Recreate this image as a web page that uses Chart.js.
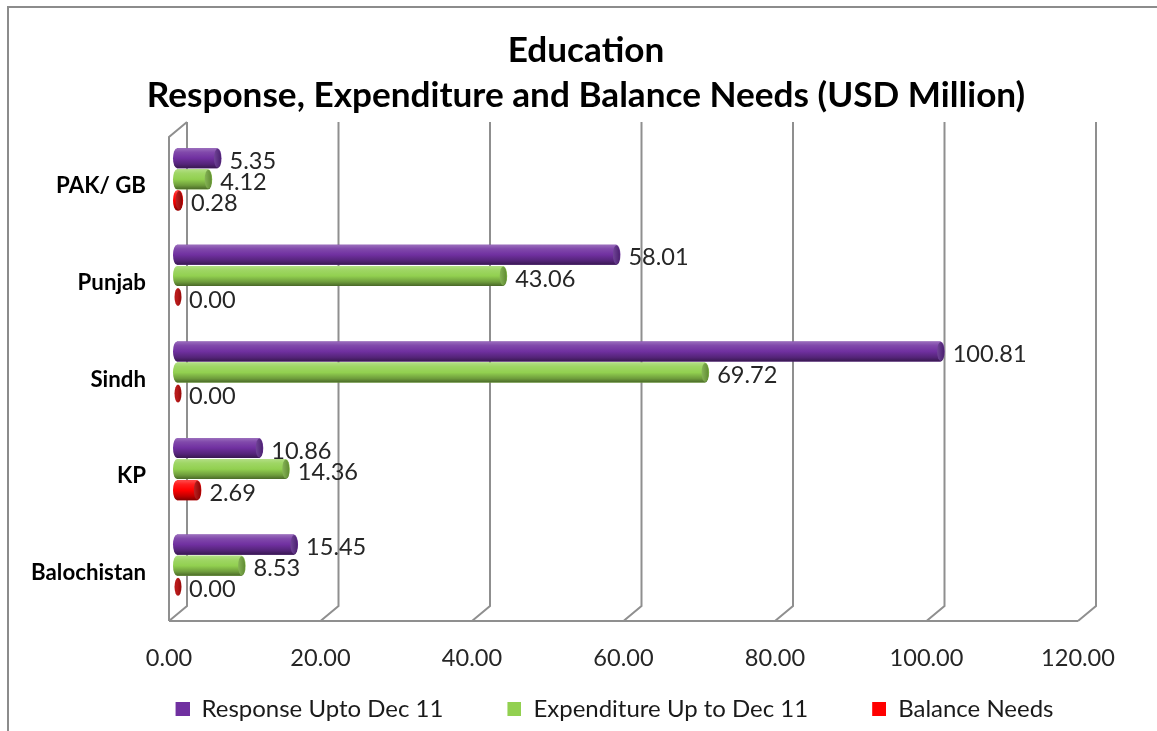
<!DOCTYPE html>
<html><head><meta charset="utf-8">
<script src="https://cdn.jsdelivr.net/npm/chart.js@4.4.1/dist/chart.umd.min.js"></script>
<style>
html,body{margin:0;padding:0;background:#fff;overflow:hidden;width:1157px;height:731px;}
#frame{position:absolute;left:7px;top:6px;width:1300px;height:900px;border-top:2px solid #8c8c8c;border-left:2px solid #8c8c8c;}
#c{position:absolute;left:0;top:0;}
</style></head><body>
<div id="frame"></div>
<canvas id="c" width="1157" height="731"></canvas>
<script>
const categories = ['PAK/ GB', 'Punjab', 'Sindh', 'KP', 'Balochistan'];
const responseUptoDec11 = [5.35, 58.01, 100.81, 10.86, 15.45];
const expenditureUptoDec11 = [4.12, 43.06, 69.72, 14.36, 8.53];
const balanceNeeds = [0.28, 0.00, 0.00, 2.69, 0.00];
const seriesNames = ['Response Upto Dec 11', 'Expenditure Up to Dec 11', 'Balance Needs'];
const xTicks = [0, 20, 40, 60, 80, 100, 120];
const titleLines = ['Education', 'Response, Expenditure and Balance Needs (USD Million)'];

const FAMILY = 'Lato';
const baseColors = ['#7030A0', '#92D050', '#FF0000'];
const capColors = ['#5a2688', '#74aa3c', '#b00000'];

const mctx = document.createElement('canvas').getContext('2d');
function fitSize(text, weight, target) {
  mctx.font = weight + ' 100px ' + FAMILY;
  return 100 * target / mctx.measureText(text).width;
}
function shade(hex, f) {
  const n = parseInt(hex.slice(1), 16);
  let r = (n >> 16) & 255, g = (n >> 8) & 255, b = n & 255;
  const t = f < 0 ? 0 : 255, p = Math.abs(f);
  r = Math.round((t - r) * p + r); g = Math.round((t - g) * p + g); b = Math.round((t - b) * p + b);
  return 'rgb(' + r + ',' + g + ',' + b + ')';
}

const LEG_GAP = 57, LEG_BOX = 14;
function legendSwatch(color) {
  const c = document.createElement('canvas');
  c.width = LEG_GAP + LEG_BOX; c.height = LEG_BOX;
  const x = c.getContext('2d');
  x.fillStyle = color;
  x.fillRect(LEG_GAP, 0, LEG_BOX, LEG_BOX);
  return c;
}

function build() {
  const titleSize = fitSize(titleLines[1], 'bold', 879);
  const yLabelSize = fitSize('Balochistan', 'bold', 115);
  const tickSize = fitSize('120.00', 'normal', 74);
  const dataSize = fitSize('100.81', 'normal', 74);
  const legendSize = fitSize(seriesNames[0], 'normal', 242);
  const swatches = baseColors.map(legendSwatch);

  const framePlugin = {
    id: 'frame3d',
    beforeDatasetsDraw(chart) {
      const ctx = chart.ctx, xs = chart.scales.x, a = chart.chartArea;
      const backTop = a.top - 9, backBottom = a.bottom - 8, frontY = a.bottom + 7;
      const bx = v => xs.getPixelForValue(v) + 10;
      const fx = v => xs.getPixelForValue(v) - 8;
      ctx.save();
      ctx.strokeStyle = '#8f8f8f';
      ctx.lineWidth = 2;
      xs.ticks.forEach(t => {
        ctx.beginPath();
        ctx.moveTo(bx(t.value), backTop);
        ctx.lineTo(bx(t.value), backBottom);
        ctx.lineTo(fx(t.value), frontY);
        ctx.stroke();
      });
      ctx.beginPath();
      ctx.moveTo(fx(xs.min), frontY);
      ctx.lineTo(fx(xs.max), frontY);
      ctx.stroke();
      ctx.beginPath();
      ctx.moveTo(bx(xs.min), backTop);
      ctx.lineTo(fx(xs.min), backTop + 15);
      ctx.lineTo(fx(xs.min), frontY);
      ctx.stroke();
      ctx.restore();
    }
  };

  const cylPlugin = {
    id: 'cylinders',
    afterDatasetsDraw(chart) {
      const ctx = chart.ctx;
      ctx.save();
      chart.data.datasets.forEach((ds, di) => {
        const meta = chart.getDatasetMeta(di);
        const base = baseColors[di], capC = capColors[di];
        meta.data.forEach((el, i) => {
          const p = el.getProps(['x', 'y', 'base', 'height'], true);
          const h = p.height, yc = p.y, top = yc - h / 2;
          const x0 = p.base, x1 = p.x;
          const rx = 4;
          if (x1 - x0 > 1) {
            const g = ctx.createLinearGradient(0, top, 0, top + h);
            g.addColorStop(0, shade(base, 0.3));
            g.addColorStop(0.2, shade(base, 0.12));
            g.addColorStop(0.5, base);
            g.addColorStop(0.8, shade(base, -0.25));
            g.addColorStop(1, shade(base, -0.5));
            ctx.fillStyle = g;
            ctx.beginPath();
            ctx.ellipse(x0, yc, rx, h / 2, 0, Math.PI / 2, Math.PI * 1.5);
            ctx.lineTo(x1, top);
            ctx.ellipse(x1, yc, rx, h / 2, 0, -Math.PI / 2, Math.PI / 2);
            ctx.closePath();
            ctx.fill();
            const cg = ctx.createLinearGradient(x1 - rx, 0, x1 + rx, 0);
            cg.addColorStop(0, shade(capC, 0.15));
            cg.addColorStop(1, shade(capC, -0.2));
            ctx.fillStyle = cg;
            ctx.beginPath();
            ctx.ellipse(x1, yc, rx - 0.5, h / 2 - 0.5, 0, 0, Math.PI * 2);
            ctx.fill();
          } else {
            const cg = ctx.createLinearGradient(x0, 0, x0 + 7, 0);
            cg.addColorStop(0, shade(capC, 0.1));
            cg.addColorStop(1, shade(capC, -0.25));
            ctx.fillStyle = cg;
            ctx.beginPath();
            ctx.ellipse(x0 + 1, yc, 3.5, h / 2 - 1, 0, 0, Math.PI * 2);
            ctx.fill();
          }
          const v = ds.data[i];
          ctx.fillStyle = '#262626';
          ctx.font = 'normal ' + dataSize + 'px ' + FAMILY;
          ctx.textAlign = 'left';
          ctx.textBaseline = 'middle';
          ctx.fillText(v.toFixed(2), x1 + 12, yc + 3);
        });
      });
      ctx.restore();
    }
  };

  const mk = (label, data, idx) => ({
    label: label,
    data: data,
    backgroundColor: baseColors[idx],
    borderWidth: 0,
    xAxisID: 'x',
    yAxisID: 'y',
    categoryPercentage: 0.655,
    barPercentage: 0.95
  });

  new Chart(document.getElementById('c'), {
    type: 'bar',
    data: {
      labels: categories,
      datasets: [
        mk(seriesNames[0], responseUptoDec11, 0),
        mk(seriesNames[1], expenditureUptoDec11, 1),
        mk(seriesNames[2], balanceNeeds, 2)
      ]
    },
    options: {
      indexAxis: 'y',
      responsive: false,
      animation: false,
      devicePixelRatio: 1,
      layout: { padding: { left: 20, right: 5, top: 8, bottom: 0 } },
      plugins: {
        tooltip: { enabled: false },
        title: {
          display: true,
          text: titleLines,
          color: '#000',
          font: { family: FAMILY, weight: 'bold', size: titleSize, lineHeight: 45 / titleSize },
          padding: { top: 20, bottom: 13 }
        },
        legend: {
          position: 'bottom',
          align: 'center',
          labels: {
            usePointStyle: true,
            pointStyleWidth: LEG_GAP + LEG_BOX,
            boxWidth: LEG_GAP + LEG_BOX,
            boxHeight: LEG_BOX,
            padding: 7,
            color: '#1a1a1a',
            font: { family: FAMILY, size: legendSize },
            generateLabels: chart => {
              const items = Chart.defaults.plugins.legend.labels.generateLabels(chart);
              items.forEach((it, i) => { it.pointStyle = swatches[i]; });
              return items;
            }
          }
        }
      },
      scales: {
        x: {
          type: 'linear',
          min: 0,
          max: 120,
          afterBuildTicks: s => { s.ticks = xTicks.map(v => ({ value: v })); },
          afterFit: s => { s.height = 76; },
          grid: { display: false, drawTicks: false },
          border: { display: false },
          ticks: {
            padding: 30,
            labelOffset: -8,
            color: '#262626',
            font: { family: FAMILY, size: tickSize },
            callback: v => Number(v).toFixed(2)
          }
        },
        y: {
          type: 'category',
          position: 'left',
          afterFit: s => { s.width = 157; },
          grid: { display: false, drawTicks: false },
          border: { display: false },
          ticks: {
            padding: 31,
            labelOffset: 7,
            color: '#000',
            font: { family: FAMILY, weight: 'bold', size: yLabelSize }
          }
        },
        yR: {
          type: 'linear',
          position: 'right',
          display: true,
          afterFit: s => { s.width = 66; },
          grid: { display: false, drawTicks: false },
          border: { display: false },
          ticks: { display: false }
        }
      }
    },
    plugins: [framePlugin, cylPlugin]
  });
}

Promise.all([
  document.fonts.load('bold 20px Lato'),
  document.fonts.load('20px Lato')
]).catch(() => {}).then(build);
</script>
</body></html>
